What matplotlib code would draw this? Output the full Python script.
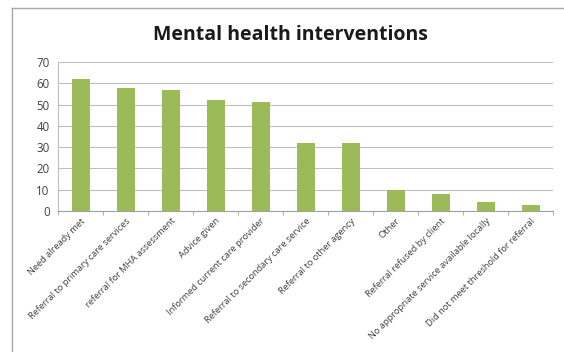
import matplotlib
matplotlib.use("Agg")
import matplotlib.pyplot as plt
from matplotlib.lines import Line2D
import numpy as np

categories = ["Need already met", "Referral to primary care services", "referral for MHA assessment",
              "Advice given", "Informed current care provider", "Referral to secondary care service",
              "Referral to other agency", "Other", "Referral refused by client",
              "No appropriate service available locally", "Did not meet threshold for referral"]
values = [62, 58, 57, 52, 51, 32, 32, 10, 8, 4, 3]
yticks = [0, 10, 20, 30, 40, 50, 60, 70]

plt.rcParams['font.family'] = ['Open Sans', 'DejaVu Sans']

fig = plt.figure(figsize=(5.64, 3.52), dpi=100)
W, H = 564, 352
ax = fig.add_axes([58 / W, 1 - 211 / H, (553 - 58) / W, (211 - 62) / H])

x = np.arange(len(categories))
ax.bar(x, values, width=0.4, color="#9BBB59", zorder=3)
ax.set_xlim(-0.5, len(categories) - 0.5)
ax.set_ylim(0, 70)
ax.set_yticks(yticks)
ax.yaxis.grid(True, color="#BFBFBF", linewidth=0.8, zorder=0)
ax.tick_params(axis='y', length=0, labelsize=8.3, colors="#404040", pad=6)

ax.set_xticks(x)
ax.set_xticklabels(categories, rotation=45, ha='right', rotation_mode='anchor', fontsize=6.7, color="#404040")
ax.tick_params(axis='x', length=0, pad=4)
for lbl in ax.get_xticklabels():
    lbl.set_x(lbl.get_position()[0])
# minor ticks between categories
ax.set_xticks(np.arange(-0.5, len(categories) + 0.5, 1), minor=True)
ax.tick_params(axis='x', which='minor', length=3, color="#A0A0A0", direction='out')

for s in ['top', 'right']:
    ax.spines[s].set_visible(False)
ax.spines['left'].set_color("#BFBFBF")
ax.spines['bottom'].set_color("#A0A0A0")

fig.text(290 / W, 1 - 35 / H, "Mental health interventions", ha='center', va='center',
         fontsize=14, fontweight='bold', color="#1a1a1a")

# chart border
fig.add_artist(Line2D([12 / W, 12 / W], [0, 1 - 8 / H], color="#a8a8a8", linewidth=1.0, transform=fig.transFigure))
fig.add_artist(Line2D([12 / W, 1], [1 - 8 / H, 1 - 8 / H], color="#a8a8a8", linewidth=1.0, transform=fig.transFigure))

fig.savefig("out.png", dpi=100)
